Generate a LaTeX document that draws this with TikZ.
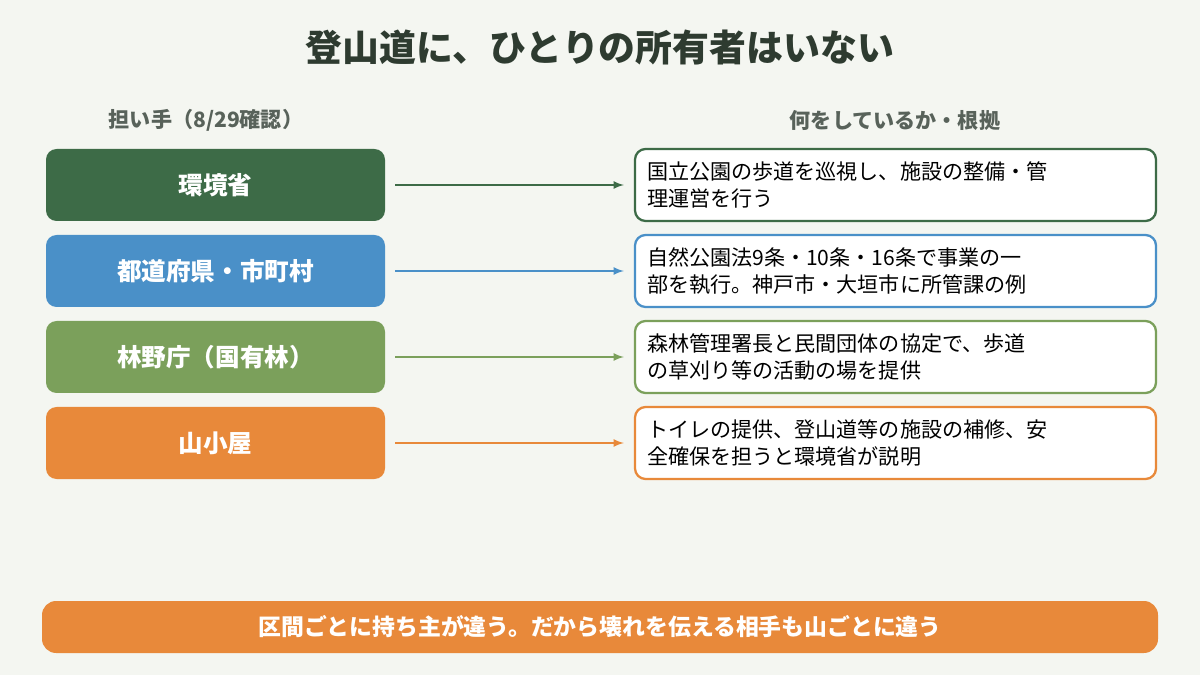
\documentclass[tikz,border=0pt]{standalone}
\usepackage{fontspec}
\setmainfont{Noto Sans CJK JP}
\newfontfamily\jpb{Noto Sans CJK JP Bold}
\begin{document}
\definecolor{bg}{HTML}{F4F6F1}
\definecolor{dg}{HTML}{3D6B47}
\definecolor{bl}{HTML}{4A90C8}
\definecolor{lg}{HTML}{7BA05B}
\definecolor{og}{HTML}{E8893A}
\definecolor{tt}{HTML}{2E3B30}
\begin{tikzpicture}[x=0.02cm,y=-0.02cm,
 lbox/.style={rounded corners=6pt,minimum width=339*0.02cm,minimum height=72*0.02cm,text=white,font=\fontsize{14}{16}\selectfont\bfseries,inner sep=0},
 rbox/.style={draw,line width=1.3pt,fill=white,rounded corners=6pt,minimum width=521*0.02cm,minimum height=72*0.02cm,text width=497*0.02cm,align=left,font=\fontsize{12}{15.5}\selectfont,text=black,inner sep=0},
 arr/.style={-latex,line width=1pt}]
\fill[bg] (0,0) rectangle (1200,675);
\node[text=tt,font=\fontsize{21}{24}\selectfont\bfseries] (title) at (600,48) {登山道に、ひとりの所有者はいない};
\node[text=tt!80,font=\fontsize{12}{14}\selectfont\bfseries] (h1) at (206,120) {担い手（8/29確認）};
\node[text=tt!80,font=\fontsize{12}{14}\selectfont\bfseries] (h2) at (895,120) {何をしているか・根拠};
\foreach \n/\y/\c/\l/\r in {
 a/185/dg/環境省/{国立公園の歩道を巡視し、施設の整備・管\\理運営を行う},
 b/271/bl/都道府県・市町村/{自然公園法9条・10条・16条で事業の一\\部を執行。神戸市・大垣市に所管課の例},
 c/357/lg/林野庁（国有林）/{森林管理署長と民間団体の協定で、歩道\\の草刈り等の活動の場を提供},
 d/443/og/山小屋/{トイレの提供、登山道等の施設の補修、安\\全確保を担うと環境省が説明}}{
 \node[lbox,fill=\c] (\n L) at (215.5,\y) {\l};
 \node[rbox,draw=\c] (\n R) at (895.5,\y) {\r};
 \draw[arr,\c] (\n L.east)++(10,0) coordinate (\n s) -- ([xshift=-10*0.02cm]\n R.west);
}
\node[fill=og,rounded corners=8pt,minimum width=1116*0.02cm,minimum height=52*0.02cm,text=white,font=\fontsize{13}{15}\selectfont\bfseries] (bar) at (600,627) {区間ごとに持ち主が違う。だから壊れを伝える相手も山ごとに違う};
\end{tikzpicture}
\end{document}
